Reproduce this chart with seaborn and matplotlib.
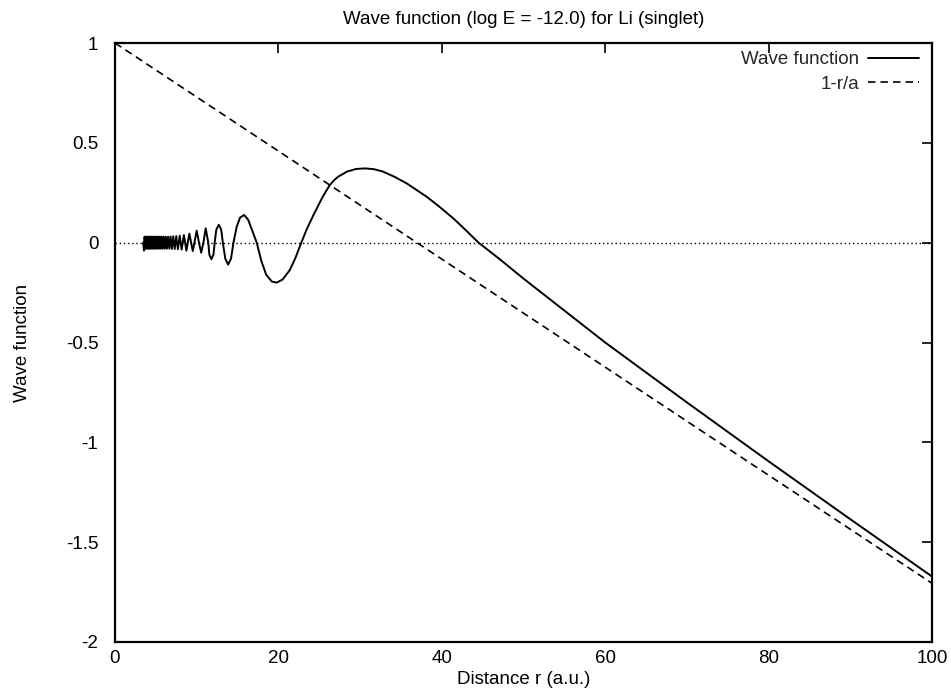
import matplotlib
matplotlib.use("Agg")
import matplotlib.pyplot as plt
import seaborn as sns
import pandas as pd

# ---- data ----
wave_r = [3.45, 3.55,
          3.62, 3.69, 3.76, 3.83, 3.90, 3.97, 4.04, 4.11, 4.19, 4.27,
          4.35, 4.43, 4.51, 4.60, 4.69, 4.78, 4.87, 4.97, 5.07, 5.17,
          5.27, 5.38, 5.49, 5.60, 5.72, 5.84, 5.96, 6.09, 6.22, 6.36,
          6.50, 6.65, 6.80, 6.96, 7.13,
          7.31, 7.50, 7.70, 7.92, 8.16, 8.43, 8.74, 9.10, 9.52, 10.0,
          10.28, 10.55, 10.82, 11.1, 11.42, 11.55, 11.8, 12.05, 12.2, 12.4,
          12.7, 13.0, 13.2, 13.5, 13.85, 14.2, 14.5, 14.9, 15.3, 15.8, 16.3,
          16.8, 17.35, 17.9, 18.5, 19.2, 19.8, 20.5, 21.4, 22.1, 22.8, 23.5,
          24.3, 25.3, 25.8, 26.3, 26.8, 27.3, 28.4, 29.5, 30.6, 31.7, 32.8,
          34.2, 35.7, 38.15, 39.8, 41.4, 43.0, 44.5, 47.1, 50.0, 60.0, 70.0,
          80.0, 90.0, 100.0]
wave_psi = [0.0, -0.04,
            0.03, -0.03, 0.03, -0.03, 0.03, -0.03, 0.03, -0.03, 0.03, -0.03,
            0.03, -0.03, 0.03, -0.03, 0.03, -0.03, 0.03, -0.03, 0.03, -0.03,
            0.03, -0.03, 0.03, -0.03, 0.03, -0.03, 0.03, -0.03, 0.03, -0.03,
            0.03, -0.03, 0.031, -0.031, 0.032,
            -0.032, 0.033, -0.033, 0.035, -0.035, 0.038, -0.04, 0.045, -0.042, 0.06,
            0.0, -0.05, 0.0, 0.072, 0.0, -0.06, -0.083, -0.06, 0.0, 0.065,
            0.09, 0.065, 0.0, -0.08, -0.11, -0.08, 0.0, 0.08, 0.125, 0.139, 0.115,
            0.06, 0.0, -0.09, -0.16, -0.195, -0.20, -0.185, -0.137, -0.075, 0.0, 0.07,
            0.139, 0.22, 0.256, 0.289, 0.312, 0.33, 0.356, 0.369, 0.372, 0.368, 0.356,
            0.33, 0.297, 0.23, 0.177, 0.122, 0.06, 0.0, -0.083, -0.18, -0.50, -0.80,
            -1.095, -1.385, -1.672]

line_r = [0.0, 100.0]
line_val = [1.0, -1.706]

x_ticks = [0, 20, 40, 60, 80, 100]
y_ticks = [-2, -1.5, -1, -0.5, 0, 0.5, 1]
y_ticklabels = ["-2", "-1.5", "-1", "-0.5", "0", "0.5", "1"]

title = "Wave function (log E = -12.0) for Li (singlet)"
xlabel = "Distance r (a.u.)"
ylabel = "Wave function"

# ---- plotting ----
sns.set_theme(style="white")
plt.rcParams["font.family"] = ["Liberation Sans", "DejaVu Sans"]

fig = plt.figure(figsize=(9.51, 6.92), dpi=100)
ax = fig.add_axes([115 / 951, 1 - 642 / 692, (932 - 115) / 951, (642 - 43) / 692])

df_wave = pd.DataFrame({"r": wave_r, "psi": wave_psi})
df_line = pd.DataFrame({"r": line_r, "psi": line_val})

ax.axhline(0, color="black", lw=1.0, ls=(0, (1, 2)), zorder=1)
sns.lineplot(data=df_wave, x="r", y="psi", ax=ax, color="black", lw=1.4,
             estimator=None, sort=False, label="Wave function")
sns.lineplot(data=df_line, x="r", y="psi", ax=ax, color="black", lw=1.2,
             estimator=None, sort=False, label="1-r/a", linestyle=(0, (4.5, 3)))

ax.set_xlim(0, 100)
ax.set_ylim(-2, 1)
ax.set_xticks(x_ticks)
ax.set_xticklabels([str(t) for t in x_ticks])
ax.set_yticks(y_ticks)
ax.set_yticklabels(y_ticklabels)

fs = 13.5
ax.tick_params(axis="both", which="major", direction="in", length=7.5, width=1.2,
               top=True, right=True, labelsize=fs, colors="black")
ax.tick_params(axis="x", pad=6)
ax.tick_params(axis="y", pad=12)
for s in ax.spines.values():
    s.set_visible(True)
    s.set_color("black")
    s.set_linewidth(1.6)

ax.set_title(title, fontsize=fs, color="black", pad=14)
ax.set_xlabel(xlabel, fontsize=fs, color="black", labelpad=3)
ax.set_ylabel(ylabel, fontsize=fs, color="black", labelpad=25)

leg = ax.legend(loc="upper right", frameon=False, markerfirst=False,
                bbox_to_anchor=(919 / 951, 1 - 51 / 692),
                bbox_transform=fig.transFigure, borderaxespad=0, borderpad=0,
                handlelength=2.7, handletextpad=0.5, labelspacing=0.4,
                fontsize=fs)

fig.savefig("out.png", dpi=100)
